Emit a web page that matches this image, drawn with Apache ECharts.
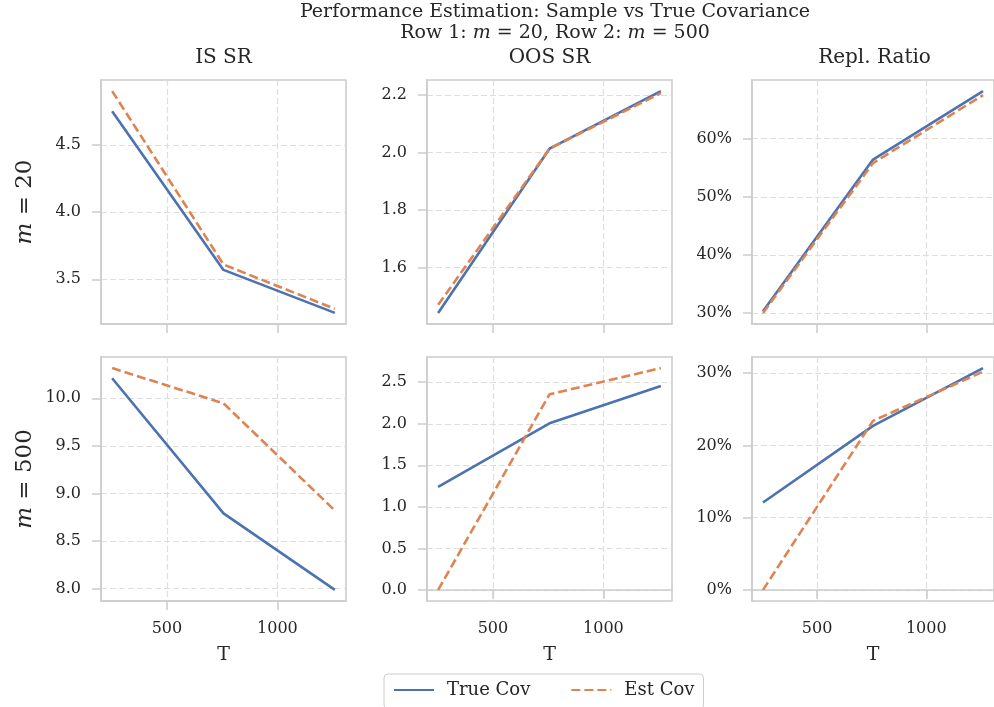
<!DOCTYPE html>
<html><head><meta charset="utf-8">
<script src="https://cdn.jsdelivr.net/npm/echarts@6/dist/echarts.min.js"></script>
<style>html,body{margin:0;padding:0;background:#fff}#c{width:994px;height:707px}</style>
</head><body><div id="c"></div>
<script>
// ---- data ----
const T = [252, 756, 1260];
const colTitles = ['IS SR', 'OOS SR', 'Repl. Ratio'];
const rowLabels = ['20', '500'];
const seriesNames = ['True Cov', 'Est Cov'];
const isTrue20 = [4.75, 3.57, 3.25];
const isEst20 = [4.90, 3.61, 3.28];
const oosTrue20 = [1.443, 2.013, 2.213];
const oosEst20 = [1.471, 2.013, 2.206];
const replTrue20 = [30.3, 56.4, 68.2];
const replEst20 = [30.0, 55.8, 67.5];
const isTrue500 = [10.21, 8.79, 7.986];
const isEst500 = [10.317, 9.947, 8.82];
const oosTrue500 = [1.24, 2.005, 2.455];
const oosEst500 = [0.0, 2.354, 2.67];
const replTrue500 = [12.1, 22.7, 30.7];
const replEst500 = [0.0, 23.4, 30.2];
const xTicks = [500, 1000];
const yTicks20IS = [3.5, 4.0, 4.5];
const yTicks20OOS = [1.6, 1.8, 2.0, 2.2];
const yTicks20Repl = [30, 40, 50, 60];
const yTicks500IS = [8.0, 8.5, 9.0, 9.5, 10.0];
const yTicks500OOS = [0.0, 0.5, 1.0, 1.5, 2.0, 2.5];
const yTicks500Repl = [0, 10, 20, 30];

// ---- layout / style ----
const FONT = 'DejaVu Serif';
const TXT = '#262626';
const BLUE = '#4c72b0', ORANGE = '#dd8452';
const colLeft = [101, 427, 752];
const rowTop = [80, 357];
const W = 245, H = 244;

const panels = [
  {t: isTrue20, e: isEst20, ticks: yTicks20IS, pct: false},
  {t: oosTrue20, e: oosEst20, ticks: yTicks20OOS, pct: false},
  {t: replTrue20, e: replEst20, ticks: yTicks20Repl, pct: true},
  {t: isTrue500, e: isEst500, ticks: yTicks500IS, pct: false},
  {t: oosTrue500, e: oosEst500, ticks: yTicks500OOS, pct: false},
  {t: replTrue500, e: replEst500, ticks: yTicks500Repl, pct: true}
];

function range(vals) {
  const mn = Math.min(...vals), mx = Math.max(...vals), d = (mx - mn) * 0.05;
  return [mn - d, mx + d];
}
const xr = range(T);

const grids = [], xAxes = [], yAxes = [], series = [];
const splitStyle = {type: [6, 3], color: '#dedede', width: 1.2};
const tickStyle = {color: '#cccccc', width: 1.5};

panels.forEach((p, i) => {
  const r = Math.floor(i / 3), c = i % 3;
  grids.push({left: colLeft[c], top: rowTop[r], width: W, height: H, show: true,
    borderColor: '#cccccc', borderWidth: 1.6, backgroundColor: 'rgba(0,0,0,0)'});
  xAxes.push({gridIndex: i, type: 'value', min: xr[0], max: xr[1],
    axisLine: {show: true, lineStyle: tickStyle},
    axisTick: {show: true, length: 9, lineStyle: tickStyle, customValues: xTicks},
    axisLabel: {show: r === 1, customValues: xTicks, margin: 20, fontFamily: FONT, fontSize: 16, color: TXT,
      formatter: v => String(Math.round(v))},
    splitLine: {show: true, lineStyle: splitStyle},
    name: r === 1 ? 'T' : '', nameLocation: 'middle', nameGap: 45,
    nameTextStyle: {fontFamily: FONT, fontSize: 19, color: TXT}});
  const yr = range(p.t.concat(p.e));
  yAxes.push({gridIndex: i, type: 'value', min: yr[0], max: yr[1],
    axisLine: {show: true, lineStyle: tickStyle},
    axisTick: {show: true, length: 9, lineStyle: tickStyle, customValues: p.ticks},
    axisLabel: {customValues: p.ticks, margin: 20, fontFamily: FONT, fontSize: 16, color: TXT,
      formatter: v => p.pct ? Math.round(v) + '%' : v.toFixed(1)},
    splitLine: {show: true, lineStyle: splitStyle},
    name: c === 0 ? '{i|m} = ' + rowLabels[r] : '', nameLocation: 'middle', nameRotate: 90, nameGap: 64,
    nameTextStyle: {fontFamily: FONT, fontSize: 23, color: TXT,
      rich: {i: {fontFamily: FONT, fontSize: 23, fontStyle: 'italic', color: TXT}}}});
  series.push({name: seriesNames[0], type: 'line', xAxisIndex: i, yAxisIndex: i,
    data: T.map((x, k) => [x, p.t[k]]), showSymbol: false, symbol: 'none',
    lineStyle: {color: BLUE, width: 2.6}, itemStyle: {color: BLUE}, z: 3});
  series.push({name: seriesNames[1], type: 'line', xAxisIndex: i, yAxisIndex: i,
    data: T.map((x, k) => [x, p.e[k]]), showSymbol: false, symbol: 'none',
    lineStyle: {color: ORANGE, width: 2.6, type: [9, 4]}, itemStyle: {color: ORANGE}, z: 4});
});

const graphics = [
  {type: 'text', x: 555, y: 12, style: {text: 'Performance Estimation: Sample vs True Covariance',
    font: '19px "DejaVu Serif"', fill: TXT, textAlign: 'center', textVerticalAlign: 'middle'}},
  {type: 'text', x: 555, y: 33, style: {text: 'Row 1: {i|m} = 20, Row 2: {i|m} = 500',
    font: '19px "DejaVu Serif"', fill: TXT, textAlign: 'center', textVerticalAlign: 'middle',
    rich: {i: {fontFamily: FONT, fontSize: 19, fontStyle: 'italic', fill: TXT}}}}
];
colTitles.forEach((t, c) => graphics.push({type: 'text', x: colLeft[c] + W / 2, y: 58,
  style: {text: t, font: '20px "DejaVu Serif"', fill: TXT, textAlign: 'center', textVerticalAlign: 'middle'}}));

const chart = echarts.init(document.getElementById('c'), null, {renderer: 'canvas'});
chart.setOption({
  animation: false,
  backgroundColor: '#ffffff',
  grid: grids, xAxis: xAxes, yAxis: yAxes, series: series,
  graphic: graphics,
  legend: {data: seriesNames, left: 384, top: 674, itemWidth: 40, itemHeight: 14, itemGap: 40,
    borderColor: '#cccccc', borderWidth: 1, borderRadius: 4, padding: [7, 9, 10, 9],
    backgroundColor: '#fff', itemStyle: {opacity: 0},
    textStyle: {fontFamily: FONT, fontSize: 18, color: TXT, padding: [0, 0, 0, 8]}}
});
</script></body></html>
